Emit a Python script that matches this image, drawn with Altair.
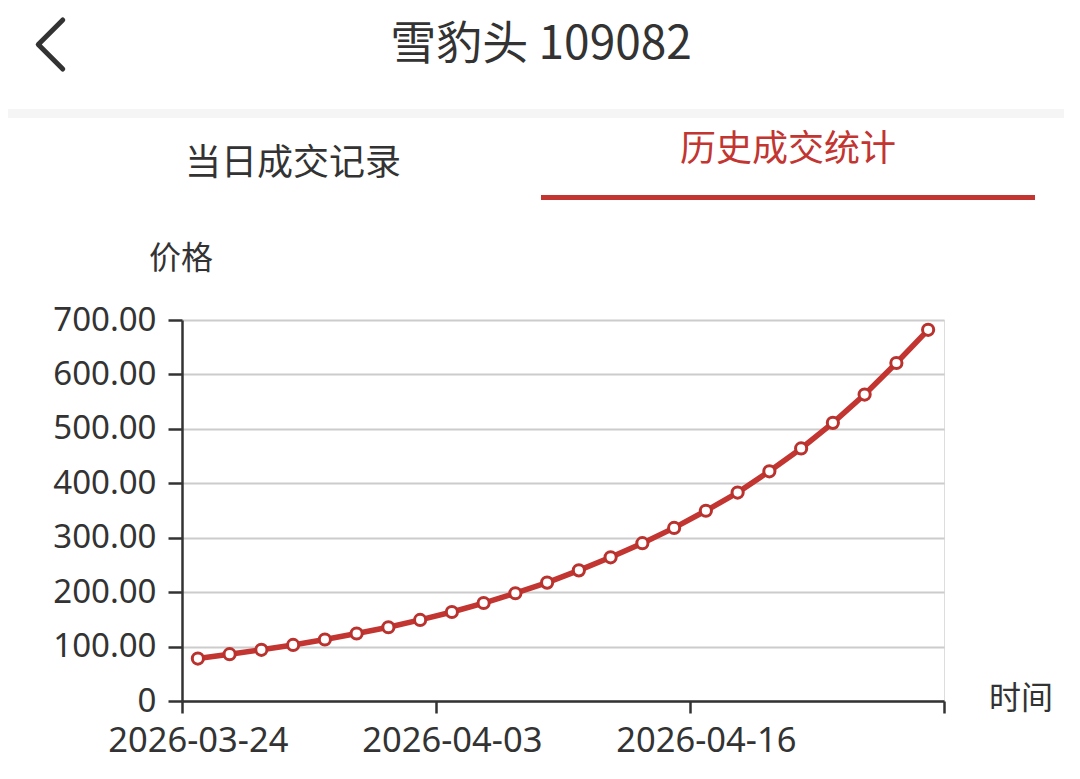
import json
import altair as alt
import pandas as pd

# ---- data ----
dates = ["2026-03-24", "2026-03-25", "2026-03-26", "2026-03-27", "2026-03-30",
         "2026-03-31", "2026-04-01", "2026-04-02", "2026-04-03", "2026-04-07",
         "2026-04-08", "2026-04-09", "2026-04-10", "2026-04-13", "2026-04-14",
         "2026-04-15", "2026-04-16", "2026-04-17", "2026-04-20", "2026-04-21",
         "2026-04-22", "2026-04-23", "2026-04-24", "2026-04-27"]
prices = [78, 86, 94, 103, 113, 124, 135.5, 149, 163.5, 180, 198, 217.5,
          240, 264, 290, 318, 349.5, 383, 422, 464, 511, 563, 621, 682]
y_ticks = [0, 100, 200, 300, 400, 500, 600, 700]
x_label_step = 8
page_title = "雪豹头 109082"
tab_left = "当日成交记录"
tab_right = "历史成交统计"
y_title = "价格"
x_title = "时间"

# ---- layout / style ----
W, H = 762, 381
PAD_L, PAD_T = 174, 312
RED = "#c23531"
DARK = "#333333"
CJK = "Noto Sans CJK SC"
NUM = "Noto Sans"

df = pd.DataFrame({"idx": list(range(len(dates))), "date": dates, "price": prices})
n = len(dates)
x_vals = [i - 0.5 for i in range(0, n + 1, x_label_step)]
label_expr = json.dumps(dates) + "[datum.value + 0.5] || ''"

x_enc = alt.X(
    "idx:Q",
    scale=alt.Scale(domain=[-0.5, n - 0.5], nice=False, zero=False),
    axis=alt.Axis(
        values=x_vals, labelExpr=label_expr, title=None, grid=False,
        labelOffset=W / n / 2, labelFlush=False, labelOverlap=False,
        labelLimit=0,
        labelFont=NUM, labelFontSize=34.5, labelColor=DARK, labelPadding=11,
        tickSize=12, tickWidth=2.5, tickColor=DARK,
        domainColor=DARK, domainWidth=2.5,
    ),
)
y_enc = alt.Y(
    "price:Q",
    scale=alt.Scale(domain=[0, 700], nice=False),
    axis=alt.Axis(
        values=y_ticks, title=None, labelLimit=0,
        labelExpr="datum.value == 0 ? '0' : format(datum.value, '.2f')",
        labelFont=NUM, labelFontSize=33, labelColor=DARK, labelPadding=12,
        tickSize=14, tickWidth=2.5, tickColor=DARK,
        domainColor=DARK, domainWidth=2.5,
        grid=True, gridColor="#cccccc", gridWidth=2,
    ),
)

base = alt.Chart(df)
line = base.mark_line(color=RED, strokeWidth=5.5).encode(x=x_enc, y=y_enc)
pts = base.mark_point(filled=True, fill="white", stroke="#b9322e", strokeWidth=3,
                      size=125, opacity=1).encode(x="idx:Q", y="price:Q")

one = pd.DataFrame({"a": [0]})


def label(text, x, y, size, color=DARK, font=CJK, align="center"):
    return alt.Chart(one).mark_text(
        text=text, font=font, fontSize=size, color=color, align=align,
        baseline="middle").encode(x=alt.value(x), y=alt.value(y))


def band(x1, x2, y1, y2, color):
    return alt.Chart(one).mark_rect(color=color).encode(
        x=alt.value(x1), x2=alt.value(x2), y=alt.value(y1), y2=alt.value(y2))


ox, oy = PAD_L + 8, PAD_T + 8  # page position of the plot origin
chevron = alt.Chart(one).mark_point(
    shape="M 0.5 -1 L -0.5 0 L 0.5 1", filled=False, stroke=DARK,
    strokeWidth=5, strokeCap="round", strokeJoin="round", size=2400, opacity=1,
).encode(x=alt.value(50.5 - ox), y=alt.value(44.5 - oy))
title = label(page_title, 541 - ox, 45 - oy, 46)
sep = band(-ox, 1080 - ox, 109 - oy, 118 - oy, "#f5f5f5")
tab1 = label(tab_left, 293 - ox, 164 - oy, 36)
tab2 = label(tab_right, 788 - ox, 150 - oy, 36, color=RED)
underline = band(541 - ox, 1035 - ox, 195 - oy, 200 - oy, RED)
ytitle = label(y_title, 181 - ox, 259 - oy, 32)
xtitle = label(x_title, 1021 - ox, 699 - oy, 32)

chart = alt.layer(
    sep, underline, line, pts, chevron, title, tab1, tab2, ytitle, xtitle
).properties(
    width=W, height=H,
    autosize=alt.AutoSizeParams(type="none"),
    padding={"left": PAD_L, "top": PAD_T, "right": 120, "bottom": 62},
).configure_view(stroke=None).configure(background="white")

chart.save("out.html", embed_options={"renderer": "svg", "actions": False})
